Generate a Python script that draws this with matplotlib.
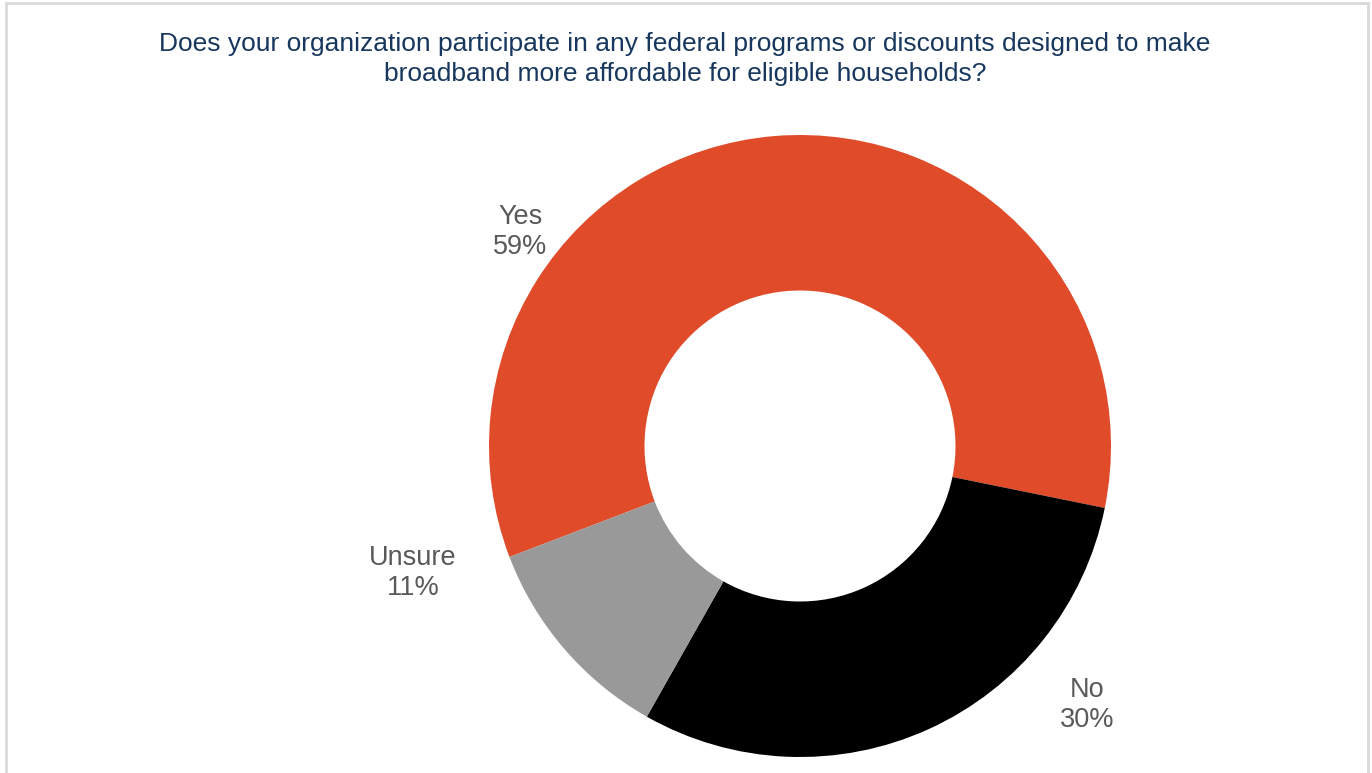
import matplotlib
matplotlib.use("Agg")
import matplotlib.pyplot as plt
from matplotlib.patches import Rectangle

plt.rcParams['font.family'] = ['Liberation Sans', 'DejaVu Sans']

categories = ["Yes", "No", "Unsure"]
values = [59, 30, 11]
colors = ["#E04B29", "#000000", "#999999"]
title = ("Does your organization participate in any federal programs or discounts designed to make\n"
         "broadband more affordable for eligible households?")

# label anchor points (data coords, radius = 1)
label_pos = [(-0.90, 0.688), (0.923, -0.833), (-1.244, -0.408)]

fig = plt.figure(figsize=(13.72, 7.73), dpi=100)
fig.patch.set_facecolor("white")

# light border
fig.add_artist(Rectangle((6 / 1372, -0.05), (1368 - 6) / 1372, (773 - 3) / 773 + 0.05,
                         transform=fig.transFigure, fill=False, edgecolor="#D9D9D9", linewidth=2))

ax = fig.add_axes([489 / 1372, 16 / 773, 622 / 1372, 622 / 773])
ax.pie(values, colors=colors, startangle=200.9, counterclock=False, radius=1.0,
       wedgeprops=dict(width=0.5, linewidth=0))
ax.set_xlim(-1, 1)
ax.set_ylim(-1, 1)
ax.set_aspect("equal")
ax.axis("off")

for cat, val, (x, y) in zip(categories, values, label_pos):
    ax.text(x, y, f"{cat}\n{val}%", ha="center", va="center", fontsize=19.5,
            color="#595959", linespacing=1.22, clip_on=False)

fig.text(685 / 1372, 1 - 59 / 773, title, ha="center", va="center", fontsize=19,
         color="#17375E", linespacing=1.27)

fig.savefig("out.png", dpi=100, facecolor="white")
